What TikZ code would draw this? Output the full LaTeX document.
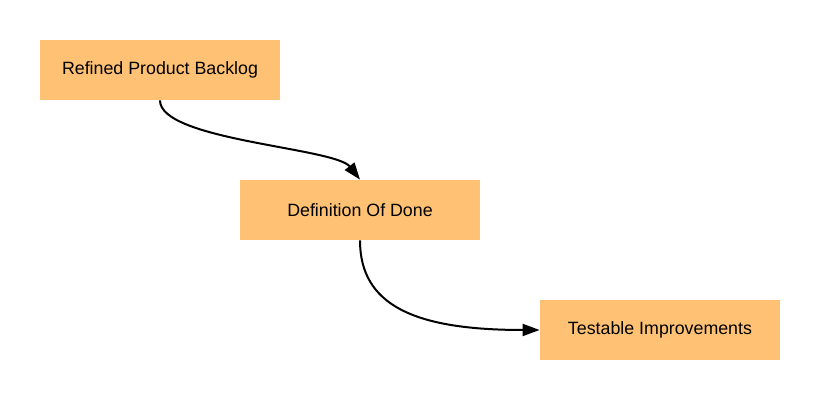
\documentclass[tikz,border=0pt]{standalone}
\usepackage{fontspec}
\setmainfont{Liberation Sans}
\usepackage{xcolor}
\usetikzlibrary{positioning, arrows.meta}
\definecolor{boxorange}{HTML}{FFC275}

\begin{document}
\begin{tikzpicture}[x=0.5pt, y=-0.5pt,
    stagebox/.style={fill=boxorange, draw=none, minimum width=120pt, minimum height=30pt,
        inner sep=0pt, font=\fontsize{8.9}{10}\selectfont},
    flow/.style={-{Triangle[length=8.5pt, width=6pt]}, line width=1pt}]
    \useasboundingbox (0,0) rectangle (820,400);

    % Boxes
    \node[stagebox] (backlog) at (160,70) {Refined Product Backlog};
    \node[stagebox] (done) at (360,210) {Definition Of Done};
    \node[stagebox] (improve) at (660,330) {Testable Improvements};

    % Arrows
    \draw[flow] (backlog.south) .. controls +(0,40) and +(-25,-32) .. (done.north);
    \draw[flow] (done.south) .. controls +(0,65) and +(-125,0) .. (improve.west);

\end{tikzpicture}
\end{document}
